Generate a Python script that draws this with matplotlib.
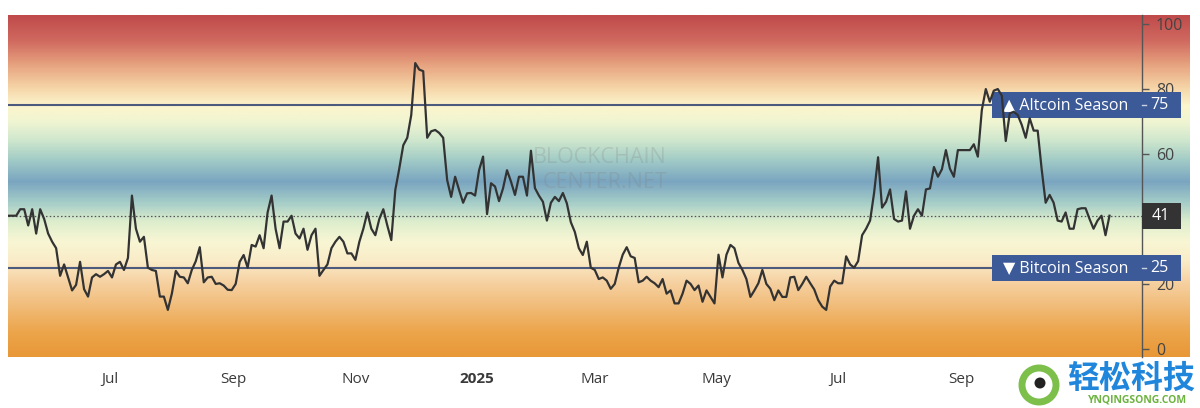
import matplotlib
matplotlib.use("Agg")
import matplotlib.pyplot as plt
import matplotlib.dates as mdates
import matplotlib.transforms as mtransforms
from matplotlib.colors import LinearSegmentedColormap
from matplotlib.patches import Rectangle, Circle
import numpy as np
import pandas as pd

plt.rcParams["font.family"] = ["Open Sans", "DejaVu Sans"]

# Altcoin season index, one reading every 2 days from START_DATE
START_DATE = "2024-05-11"
STEP_DAYS = 2
index_values = [
    41, 41, 41, 43, 43, 38, 43, 35.5, 43, 40,
    35.5, 33, 31, 22.5, 26, 22, 18, 19.7, 26.8, 18.4,
    16.1, 22, 23, 22.2, 23, 24, 22, 26, 26.8, 24.3,
    28, 47.2, 37, 33, 34.5, 25, 24.3, 24, 16.1, 16.1,
    12, 17, 24, 22.2, 22, 20.2, 24.3, 27, 31.3, 20.5,
    22, 22.2, 20, 20.2, 19.5, 18.2, 18.1, 20, 26.8, 28.9,
    25, 32, 31.5, 35, 31, 42, 47.2, 37, 31, 39.2,
    39.2, 41, 35.5, 34, 37, 30.5, 35, 37, 22.5, 24.3,
    26, 31, 33, 34.5, 33, 29.4, 29.4, 27.4, 33, 37,
    42, 37, 35, 40, 43, 38, 33.5, 48.9, 55.5, 62.7,
    65, 72, 88, 86, 85.5, 65, 67, 67.4, 66.5, 65,
    52, 46.8, 53, 48.9, 45, 47.9, 48, 47.2, 55, 59.2,
    41.5, 51, 50, 45.5, 49.4, 55, 51.5, 47.4, 53, 53,
    47.2, 61, 49.5, 47.2, 45.3, 39.5, 45, 46.8, 45.5, 48,
    44.8, 39, 36, 31, 28.9, 33, 25, 24.3, 21.5, 22,
    21, 18.5, 20, 25, 29, 31.3, 28.5, 28, 20.5, 21,
    22.2, 21, 20.2, 19, 21.5, 17, 18, 14, 14, 17,
    21, 20, 18.1, 19.5, 14.5, 18, 16, 14, 29, 22,
    29, 32, 31, 26.5, 24.3, 21.5, 16, 18, 20.2, 24.3,
    20, 18.5, 15, 18, 16, 16, 22, 22.2, 18.1, 20,
    22.2, 20.2, 18.3, 15, 13, 12, 19.2, 21, 20.2, 20.2,
    28.5, 26, 25, 27, 35, 37, 39.5, 48, 59, 43.5,
    45.3, 49.1, 40, 39.2, 39.5, 48.5, 37, 41, 43, 41,
    49.1, 49.4, 56, 53, 55.3, 61.2, 55.5, 53, 61.2, 61.2,
    61.2, 61.2, 63, 59.2, 73.5, 80, 76.1, 79.5, 80, 78,
    64, 72.5, 73, 72, 69, 65, 71, 67.2, 67.2, 55.3,
    45, 47.4, 45, 39.5, 39.2, 42, 37, 37, 43, 43.3,
    43.3, 40, 37, 39.5, 41, 35, 41,
]

ALT_LEVEL = 75
BTC_LEVEL = 25
CURRENT = 41

tick_dates = ["2024-07-01", "2024-09-01", "2024-11-01", "2025-01-01",
              "2025-03-01", "2025-05-01", "2025-07-01", "2025-09-01"]
tick_labels = ["Jul", "Sep", "Nov", "2025", "Mar", "May", "Jul", "Sep"]
y_ticks = [0, 20, 60, 80, 100]

# background gradient stops (index value -> colour)
grad_levels = [-2.5, 5, 12, 20, 27, 33, 39, 45, 51.5, 58, 64, 70, 75, 81, 88, 95, 102.8]
grad_colors = ["#e89838", "#eca54b", "#f0b973", "#f6d0a0", "#faecc8", "#f8f6d4",
               "#deeecd", "#a5cdc8", "#7aa5c0", "#a0cac6", "#cde6cd", "#f0f5d2",
               "#fcf5cd", "#f5d2a5", "#e6a07d", "#d06a60", "#c04b4b"]

YMIN, YMAX = -2.5, 102.8
XMIN, XMAX = pd.Timestamp("2024-05-10 21:00"), pd.Timestamp("2025-11-30 07:00")

dates = pd.date_range(START_DATE, periods=len(index_values), freq=f"{STEP_DAYS}D")

fig = plt.figure(figsize=(12, 4.08), dpi=100)

# gradient strip runs a bit past the price axis, under the labels
bg = fig.add_axes([8 / 1200, 51 / 408, 1182 / 1200, 342 / 408])
span = (np.array(grad_levels) - YMIN) / (YMAX - YMIN)
cmap = LinearSegmentedColormap.from_list("season", list(zip(span, grad_colors)))
grad = np.linspace(YMIN, YMAX, 600).reshape(-1, 1)
bg.imshow(grad, cmap=cmap, vmin=YMIN, vmax=YMAX, aspect="auto", origin="lower",
          extent=[0, 1, YMIN, YMAX])
bg.set_ylim(YMIN, YMAX)
bg.axis("off")

ax = fig.add_axes([8 / 1200, 51 / 408, 1134 / 1200, 342 / 408])
ax.set_facecolor("none")
ax.set_xlim(XMIN, XMAX)
ax.set_ylim(YMIN, YMAX)

ax.axhline(ALT_LEVEL, color="#4b5a7d", lw=1.5, zorder=2)
ax.axhline(BTC_LEVEL, color="#4b5a7d", lw=1.5, zorder=2)
ax.axhline(CURRENT, color="#555555", lw=0.9, ls=(0, (1.2, 1.8)), zorder=2)

trans = mtransforms.blended_transform_factory(ax.transAxes, ax.transData)

# watermark
ax.text(0.522, 59.0, "BLOCKCHAIN", transform=trans, ha="center", va="center",
        fontsize=15.5, color="#7d7d7d", alpha=0.22, zorder=1)
ax.text(0.527, 51.2, "CENTER.NET", transform=trans, ha="center", va="center",
        fontsize=15.5, color="#7d7d7d", alpha=0.22, zorder=1)

ax.plot(dates, index_values, color="#333333", lw=1.6, zorder=4)

# season / current value tags on the right
def fx(px):
    return (px - 8) / 1134

for level, label in [(ALT_LEVEL, "\u25b2 Altcoin Season"), (BTC_LEVEL, "\u25bc Bitcoin Season")]:
    ax.add_patch(Rectangle((fx(992), level - 3.95), fx(1181) - fx(992), 7.9, transform=trans,
                           facecolor="#3d5a98", edgecolor="none", clip_on=False, zorder=3))
    ax.text(fx(1003), level, label, transform=trans, ha="left", va="center",
            fontsize=11.5, color="white", clip_on=False, zorder=3.5)
    ax.plot([1.0, fx(1146)], [level, level], transform=trans, color="#c9d0e0", lw=1,
            clip_on=False, zorder=3.5)
    ax.text(fx(1150), level, str(level), transform=trans, ha="left", va="center",
            fontsize=11.5, color="white", clip_on=False, zorder=3.5)

ax.add_patch(Rectangle((1.0, CURRENT - 4.0), fx(1181) - 1.0, 8.0, transform=trans,
                       facecolor="#333333", edgecolor="none", clip_on=False, zorder=3))
ax.text(fx(1152), CURRENT, str(CURRENT), transform=trans, ha="left", va="center",
        fontsize=11.5, color="white", clip_on=False, zorder=3.5)

for side in ["top", "left", "bottom"]:
    ax.spines[side].set_visible(False)
ax.spines["right"].set_color("#555555")
ax.spines["right"].set_linewidth(1)

ax.yaxis.tick_right()
ax.set_yticks(y_ticks)
ax.set_yticklabels([str(v) for v in y_ticks])
ax.tick_params(axis="y", direction="out", length=5, width=1, color="#555555",
               labelsize=11.5, labelcolor="#444444", pad=5)

ax.set_xticks([mdates.date2num(pd.Timestamp(d)) for d in tick_dates])
ax.set_xticklabels(tick_labels)
ax.tick_params(axis="x", length=0, labelsize=11, labelcolor="#3a3a3a", pad=11)
for t in ax.get_xticklabels():
    if t.get_text() == "2025":
        t.set_fontweight("bold")

# site logo at bottom right
ov = fig.add_axes([0, 0, 1, 1])
ov.set_xlim(0, 1200)
ov.set_ylim(408, 0)
ov.axis("off")
ov.add_patch(Circle((1039, 385), 17, facecolor="white", edgecolor="#7cbf4a", lw=5))
ov.add_patch(Circle((1040, 383), 5.5, facecolor="#222222", edgecolor="none"))
ov.text(1131, 379, "轻松科技", ha="center", va="center", fontsize=23, fontweight="bold",
        color="#1f86dc", family=["Noto Sans CJK SC", "DejaVu Sans"])
ov.text(1137, 400, "YNQINGSONG.COM", ha="center", va="center", fontsize=7.5, fontweight="bold",
        color="#6db33f")

fig.savefig("out.png", dpi=100)
